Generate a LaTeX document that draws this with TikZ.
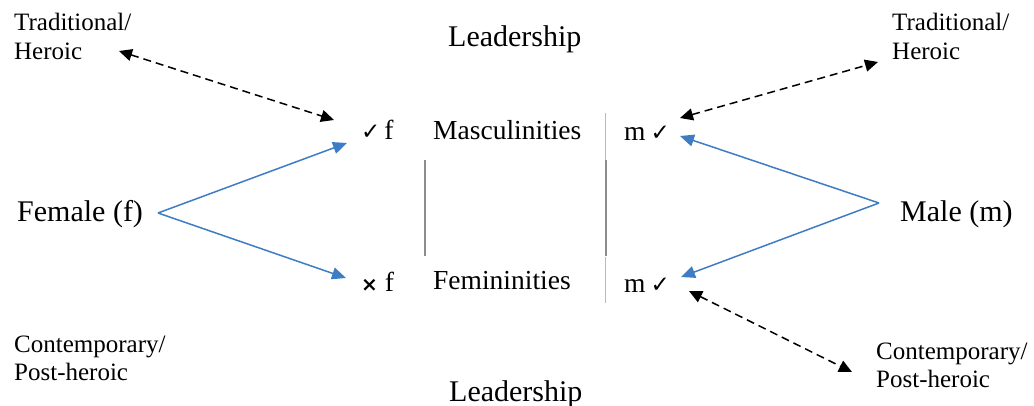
\documentclass[tikz,border=0pt]{standalone}
\usepackage{fontspec}
\setmainfont{Liberation Serif}
\newfontfamily\dejavu{DejaVu Sans}
\usetikzlibrary{arrows.meta}
\definecolor{bluearr}{HTML}{3E7CC4}
\definecolor{grayline}{HTML}{8C8C8C}
\tikzset{
  big/.style={inner sep=0pt, anchor=base west, font=\fontsize{30}{32}\selectfont},
  mid/.style={inner sep=0pt, anchor=base west, font=\fontsize{27.5}{30}\selectfont},
  small/.style={inner sep=0pt, anchor=base west, font=\fontsize{25}{28}\selectfont},
  bluearrow/.style={draw=bluearr, line width=1.5pt, -{Triangle[length=14pt,width=12pt]}},
  dasharrow/.style={draw=black, line width=1.5pt, dash pattern=on 8pt off 5pt,
     {Triangle[length=13pt,width=12pt]}-{Triangle[length=13pt,width=12pt]}},
  sepline/.style={draw=grayline, line width=2.6pt},
  thinline/.style={draw=grayline!60, line width=0.8pt},
}
\newcommand{\chk}{{\dejavu\fontsize{23}{23}\selectfont ✓}}
\newcommand{\crs}{{\dejavu\bfseries\fontsize{20}{20}\selectfont ×}}
\begin{document}
\begin{tikzpicture}[x=1pt,y=-1pt]
\useasboundingbox (0,0) rectangle (1034,406);
% texts
\node[small] (tradL1) at (14,31) {Traditional/};
\node[small] (tradL2) at (14,60) {Heroic};
\node[small] (tradR1) at (892,31) {Traditional/};
\node[small] (tradR2) at (892,60) {Heroic};
\node[small] (contL1) at (14,352) {Contemporary/};
\node[small] (contL2) at (14,380) {Post-heroic};
\node[small] (contR1) at (876,359) {Contemporary/};
\node[small] (contR2) at (876,387) {Post-heroic};
\node[big] (leadT) at (448,47) {Leadership};
\node[big] (leadB) at (449,401) {Leadership};
\node[big] (female) at (17,222) {Female (f)};
\node[big] (male) at (900,222) {Male (m)};
\node[mid] (masc) at (433,140) {Masculinities};
\node[mid] (fem) at (433,290) {Femininities};
\node[mid] (cf) at (361,140) {\chk\hspace{4pt}f};
\node[mid] (xf) at (361,291) {\crs\hspace{7pt}f};
\node[mid] (mc) at (624,141) {m\hspace{5pt}\chk};
\node[mid] (mc2) at (624,293) {m\hspace{5pt}\chk};
% separator lines
\coordinate (s1t) at (425,160); \coordinate (s1b) at (425,256);
\coordinate (s2t) at (606,160); \coordinate (s2b) at (606,256);
\draw[sepline] (s1t) -- (s1b);
\draw[sepline] (s2t) -- (s2b);
\coordinate (t1t) at (605,113); \coordinate (t1b) at (605,160);
\coordinate (t2t) at (605,257); \coordinate (t2b) at (605,303);
\draw[thinline] (t1t) -- (t1b);
\draw[thinline] (t2t) -- (t2b);
% arrow endpoints
\coordinate (fv) at (158,213);
\coordinate (mv) at (879,203);
\coordinate (cfTip) at (347,143);
\coordinate (xfTip) at (346,278);
\coordinate (mcTip) at (680,136);
\coordinate (mc2Tip) at (681,277);
\coordinate (tradLTip) at (119,51);
\coordinate (cfTop) at (334,120);
\coordinate (mcTop) at (680,118);
\coordinate (tradRTip) at (878,62);
\coordinate (mc2Bot) at (689,291);
\coordinate (contRTip) at (852,372);
% blue arrows
\draw[bluearrow] (fv) -- (cfTip);
\draw[bluearrow] (fv) -- (xfTip);
\draw[bluearrow] (mv) -- (mcTip);
\draw[bluearrow] (mv) -- (mc2Tip);
% dashed arrows
\draw[dasharrow] (tradLTip) -- (cfTop);
\draw[dasharrow] (mcTop) -- (tradRTip);
\draw[dasharrow] (mc2Bot) -- (contRTip);
\end{tikzpicture}
\end{document}
